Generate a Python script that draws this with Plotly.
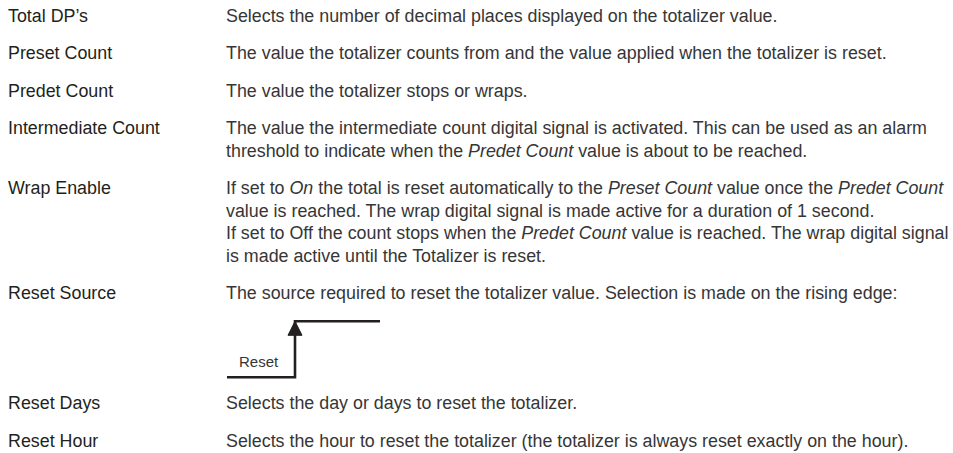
import plotly.graph_objects as go

# ---- content ----
labels = ["Total DP\u2019s", "Preset Count", "Predet Count", "Intermediate Count",
          "Wrap Enable", "Reset Source", "Reset Days", "Reset Hour"]

descriptions = [
    ["Selects the number of decimal places displayed on the totalizer value."],
    ["The value the totalizer counts from and the value applied when the totalizer is reset."],
    ["The value the totalizer stops or wraps."],
    ["The value the intermediate count digital signal is activated. This can be used as an alarm",
     "threshold to indicate when the <i>Predet Count</i> value is about to be reached."],
    ["If set to <i>On</i> the total is reset automatically to the <i>Preset Count</i> value once the <i>Predet Count</i>",
     "value is reached. The wrap digital signal is made active for a duration of 1 second.",
     "If set to Off the count stops when the <i>Predet Count</i> value is reached. The wrap digital signal",
     "is made active until the Totalizer is reset."],
    ["The source required to reset the totalizer value. Selection is made on the rising edge:"],
    ["Selects the day or days to reset the totalizer."],
    ["Selects the hour to reset the totalizer (the totalizer is always reset exactly on the hour)."],
]

# Rising-edge diagram (signal levels)
signal_t = [0, 1, 1, 2.25]
signal_level = [0, 0, 1, 1]
signal_label = "Reset"

# ---- layout constants ----
W, H = 953, 453
LEFT_X, RIGHT_X = 6, 224
FIRST_Y = 16
LINE_STEP = 22.7
ROW_GAP = 14.6
DIAGRAM_H = 110
FONT = "Liberation Sans, Arial, Helvetica, sans-serif"
FS = 17.85
INK = "#231f20"
DESC_INK = "#363636"

fig = go.Figure()
annotations = []
y = FIRST_Y
diagram_top = None
for lab, desc in zip(labels, descriptions):
    annotations.append(dict(x=LEFT_X, y=y, text=lab, xanchor="left", yanchor="middle",
                            showarrow=False, font=dict(family=FONT, size=FS, color=INK)))
    for i, line in enumerate(desc):
        annotations.append(dict(x=RIGHT_X, y=y + i * LINE_STEP, text=line, xanchor="left",
                                yanchor="middle", showarrow=False,
                                font=dict(family=FONT, size=FS, color=DESC_INK)))
    last = y + (len(desc) - 1) * LINE_STEP
    if lab == "Reset Source":
        diagram_top = last
        y = last + DIAGRAM_H
    else:
        y = last + LINE_STEP + ROW_GAP

# diagram geometry mapped from signal units to pixels
x0 = 227
t_scale = 68
y_low = diagram_top + 84
y_high = diagram_top + 28
sx = [x0 + t * t_scale for t in signal_t]
sy = [y_low - lv * (y_low - y_high) for lv in signal_level]
fig.add_trace(go.Scatter(x=sx, y=sy, mode="lines", line=dict(color=INK, width=2.6),
                         hoverinfo="skip", showlegend=False))
ex = sx[1]
fig.add_shape(type="path",
              path=f"M {ex-7},{y_high+14} L {ex+7},{y_high+14} L {ex},{y_high} Z",
              fillcolor=INK, line=dict(color=INK, width=1), layer="above")
annotations.append(dict(x=x0 + 10, y=y_low - 16, text=signal_label, xanchor="left",
                        yanchor="middle", showarrow=False,
                        font=dict(family=FONT, size=15, color=DESC_INK)))

fig.update_layout(
    width=W, height=H,
    margin=dict(l=0, r=0, t=0, b=0),
    paper_bgcolor="white", plot_bgcolor="white",
    xaxis=dict(range=[0, W], visible=False, fixedrange=True),
    yaxis=dict(range=[H, 0], visible=False, fixedrange=True),
    annotations=annotations,
    showlegend=False,
)
fig.write_html("out.html", config={"displayModeBar": False},
               post_script="document.body.style.margin='0';document.body.style.overflow='hidden';")
